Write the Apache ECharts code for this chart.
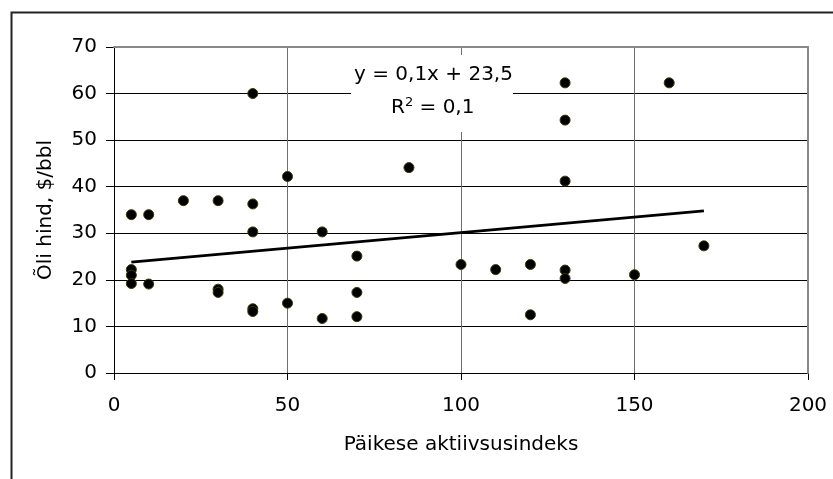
<!DOCTYPE html>
<html>
<head>
<meta charset="utf-8">
<script src="https://cdn.jsdelivr.net/npm/echarts@6/dist/echarts.min.js"></script>
<style>html,body{margin:0;padding:0;background:#fff}#c{width:833px;height:479px}</style>
</head>
<body>
<div id="c"></div>
<script>
// Päikese aktiivsusindeks (x) vs Õli hind, $/bbl (y)
var solarIndex = [5, 5, 5, 5, 10, 10, 20, 30, 30, 30, 40, 40, 40, 40, 40, 50, 50, 60, 60, 70, 70, 70, 85, 100, 110, 120, 120, 130, 130, 130, 130, 130, 150, 160, 170];
var oilPrice   = [34, 22.2, 21, 19.2, 34, 19.1, 37, 37, 18, 17.3, 60, 36.3, 30.3, 13.8, 13.2, 42.2, 15, 30.3, 11.7, 25.1, 17.3, 12.1, 44.1, 23.3, 22.2, 23.3, 12.5, 62.3, 54.3, 41.2, 22.1, 20.3, 21.1, 62.3, 27.3];
var trendX = [5, 170];
var trendY = [23.8, 34.8];
var xTicks = [0, 50, 100, 150, 200];
var yTicks = [0, 10, 20, 30, 40, 50, 60, 70];
var xTitle = 'Päikese aktiivsusindeks';
var yTitle = 'Õli hind, $/bbl';
var eqLine1 = 'y = 0,1x + 23,5';
var eqLine2 = '{base|R}{sup|2}{base| = 0,1}';

var points = solarIndex.map(function (x, i) { return [x, oilPrice[i]]; });
var trend = trendX.map(function (x, i) { return [x, trendY[i]]; });
var FONT = 'DejaVu Sans';

var chart = echarts.init(document.getElementById('c'));
chart.setOption({
  animation: false,
  backgroundColor: '#fff',
  textStyle: { fontFamily: FONT },
  grid: { left: 114, right: 25, top: 47, bottom: 106 },
  xAxis: [{
    type: 'value', min: xTicks[0], max: xTicks[xTicks.length - 1], interval: 50,
    name: xTitle, nameLocation: 'middle', nameGap: 62,
    nameTextStyle: { fontFamily: FONT, fontSize: 20, color: '#000' },
    axisLine: { onZero: false, lineStyle: { color: '#000', width: 1 } },
    axisTick: { show: true, inside: false, length: 7, lineStyle: { color: '#000' } },
    axisLabel: { margin: 23, fontFamily: FONT, fontSize: 20, color: '#000' },
    splitLine: { show: true, lineStyle: { color: '#6e6e6e', width: 1 } }
  }, {
    type: 'value', position: 'top', min: 0, max: 200, interval: 50,
    axisLine: { show: true, onZero: false, lineStyle: { color: '#888', width: 2 } },
    axisTick: { show: false }, axisLabel: { show: false }, splitLine: { show: false }, z: 5
  }],
  yAxis: [{
    type: 'value', min: yTicks[0], max: yTicks[yTicks.length - 1], interval: 10,
    name: yTitle, nameLocation: 'middle', nameGap: 58, nameRotate: 90,
    nameTextStyle: { fontFamily: FONT, fontSize: 20, color: '#000' },
    axisLine: { show: true, onZero: false, lineStyle: { color: '#000', width: 1 } },
    axisTick: { show: true, inside: false, length: 8, lineStyle: { color: '#000' } },
    axisLabel: { margin: 17, fontFamily: FONT, fontSize: 20, color: '#000' },
    splitLine: { show: true, lineStyle: { color: '#000', width: 1 } }
  }, {
    type: 'value', position: 'right', min: 0, max: 70, interval: 10,
    axisLine: { show: true, onZero: false, lineStyle: { color: '#888', width: 2 } },
    axisTick: { show: false }, axisLabel: { show: false }, splitLine: { show: false }, z: 5
  }],
  series: [{
    type: 'line', data: trend, symbol: 'none', z: 3,
    lineStyle: { color: '#000', width: 2.8 }
  }, {
    type: 'scatter', data: points, symbol: 'circle', symbolSize: 10, z: 4,
    itemStyle: { color: '#000', borderColor: '#3a3a00', borderWidth: 1, opacity: 1 }
  }],
  graphic: [{
    type: 'rect', left: 9, top: 10, z: 100, silent: true,
    shape: { width: 1000, height: 1000 },
    style: { fill: 'none', stroke: '#222', lineWidth: 2 }
  }, {
    type: 'rect', left: 351, top: 55, z: 50, silent: true,
    shape: { width: 162, height: 77 },
    style: { fill: '#fff' }
  }, {
    type: 'text', left: 354, top: 65, z: 60, silent: true,
    style: { text: eqLine1, font: '20px "DejaVu Sans"', fill: '#000' }
  }, {
    type: 'text', left: 391, top: 96, z: 60, silent: true,
    style: {
      text: eqLine2, fill: '#000', lineHeight: 22,
      rich: {
        base: { fontSize: 20, fontFamily: FONT, verticalAlign: 'bottom', lineHeight: 22 },
        sup: { fontSize: 13, fontFamily: FONT, verticalAlign: 'top', lineHeight: 13 }
      }
    }
  }]
});
</script>
</body>
</html>
